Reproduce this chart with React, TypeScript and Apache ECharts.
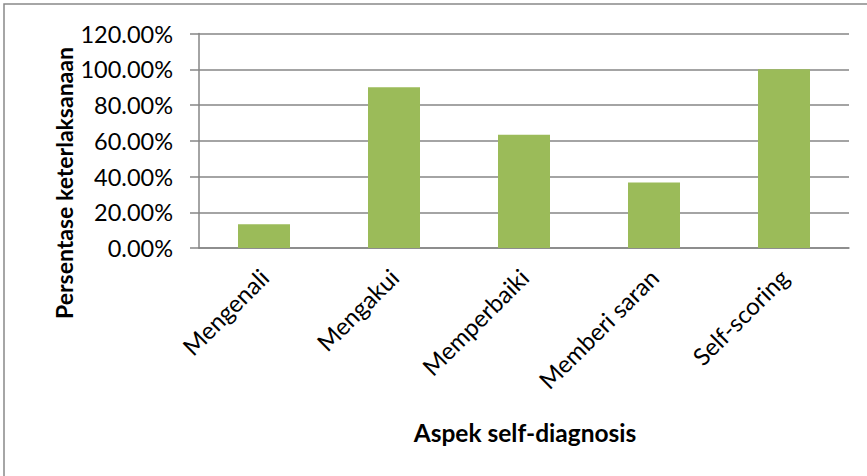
import React, { useEffect, useRef } from "react";
import * as echarts from "echarts";

const categories = ["Mengenali", "Mengakui", "Memperbaiki", "Memberi saran", "Self-scoring"];
const values = [13.33, 90.0, 63.33, 36.67, 100.0];
const xTitle = "Aspek self-diagnosis";
const yTitle = "Persentase keterlaksanaan";

const FONT = "Lato, 'Open Sans', sans-serif";

export default function App() {
  const ref = useRef<HTMLDivElement>(null);
  useEffect(() => {
    if (!ref.current) return;
    const chart = echarts.init(ref.current, null, { renderer: "svg" });
    chart.setOption({
      animation: false,
      backgroundColor: "#ffffff",
      grid: { left: 199, top: 33.5, width: 650, height: 214.5, containLabel: false },
      xAxis: {
        type: "category",
        data: categories,
        axisLine: { show: true, lineStyle: { color: "#868686", width: 1.5 } },
        axisTick: { show: false },
        axisLabel: {
          rotate: 45,
          margin: 25,
          color: "#000",
          fontFamily: FONT,
          fontSize: 24,
          interval: 0,
        },
      },
      yAxis: {
        type: "value",
        min: 0,
        max: 120,
        interval: 20,
        axisLine: { show: true, lineStyle: { color: "#868686", width: 1.5 } },
        axisTick: { show: true, length: 9, lineStyle: { color: "#868686", width: 1.5 } },
        splitLine: { show: true, lineStyle: { color: "#868686", width: 1.5 } },
        axisLabel: {
          margin: 26,
          color: "#000",
          fontFamily: FONT,
          fontSize: 23.5,
          formatter: (v: number) => v.toFixed(2) + "%",
        },
      },
      series: [
        {
          type: "bar",
          data: values,
          barWidth: "40%",
          itemStyle: { color: "#9BBB59" },
        },
      ],
      graphic: [
        {
          type: "rect",
          shape: { x: 4, y: 4, width: 880, height: 490 },
          style: { fill: "none", stroke: "#898989", lineWidth: 1.5 },
          silent: true,
        },
        {
          type: "text",
          x: 525,
          y: 432,
          style: {
            text: xTitle,
            font: `bold 24.5px ${FONT}`,
            fill: "#000",
            textAlign: "center",
            textVerticalAlign: "middle",
          },
        },
        {
          type: "text",
          x: 64,
          y: 183,
          rotation: Math.PI / 2,
          style: {
            text: yTitle,
            font: `bold 23px ${FONT}`,
            fill: "#000",
            textAlign: "center",
            textVerticalAlign: "middle",
          },
        },
      ],
    });
    return () => chart.dispose();
  }, []);
  return (
    <div
      ref={ref}
      style={{ position: "absolute", left: 0, top: 0, width: 867, height: 476 }}
    />
  );
}
